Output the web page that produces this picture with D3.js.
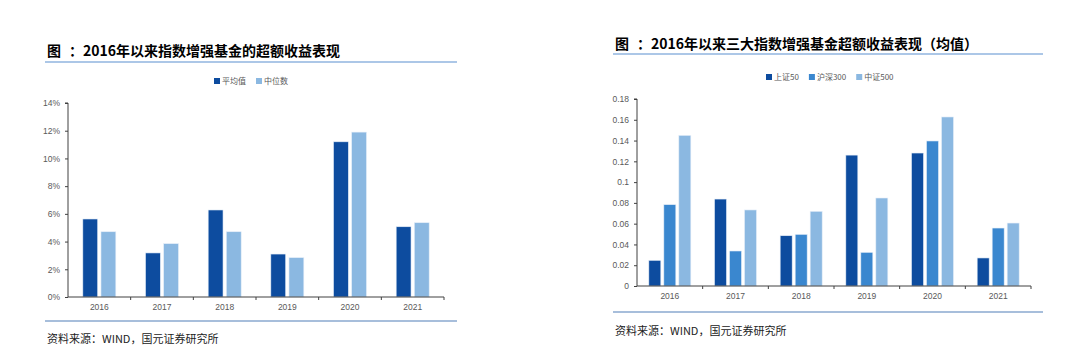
<!DOCTYPE html>
<html><head><meta charset="utf-8">
<script src="https://cdn.jsdelivr.net/npm/d3@7"></script>
<style>body{margin:0;background:#fff;} svg{display:block;} text{white-space:pre;}</style>
</head><body>
<svg id="c" width="1080" height="358"></svg>
<script>
// ---- data ----
const years = ["2016","2017","2018","2019","2020","2021"];
const leftSeries = ["平均值","中位数"];
const leftMean = [5.63, 3.18, 6.28, 3.10, 11.20, 5.07];
const leftMedian = [4.71, 3.85, 4.71, 2.84, 11.90, 5.36];
const leftTicks = [0,2,4,6,8,10,12,14];
const rightSeries = ["上证50","沪深300","中证500"];
const sz50 = [0.0247, 0.0837, 0.0484, 0.1260, 0.1280, 0.0270];
const hs300 = [0.0783, 0.0337, 0.0497, 0.0324, 0.1396, 0.0558];
const zz500 = [0.1450, 0.0732, 0.0719, 0.0847, 0.1627, 0.0606];
const rightTicks = [0,0.02,0.04,0.06,0.08,0.1,0.12,0.14,0.16,0.18];
const titleL = ["图", "：2016年以来指数增强基金的超额收益表现"];
const titleR = ["图", "：2016年以来三大指数增强基金超额收益表现（均值）"];
const source = "资料来源：WIND，国元证券研究所";

const svg = d3.select("#c");
const cjk = "'Noto Sans CJK SC', sans-serif";
const sans = "'Liberation Sans', Arial, sans-serif";

function panel(o){
  // title
  const tt = svg.append("text").attr("x",o.tx).attr("y",o.ty).attr("font-family",cjk)
    .attr("font-weight","bold").attr("font-size",14).attr("fill","#000");
  tt.append("tspan").text(o.title[0]);
  tt.append("tspan").attr("dx",8).text(o.title[1]);
  svg.append("line").attr("x1",o.lx1).attr("x2",o.lx2).attr("y1",o.ly).attr("y2",o.ly)
    .attr("stroke","#5a8fcf").attr("stroke-width",1.2);
  svg.append("line").attr("x1",o.lx1).attr("x2",o.lx2).attr("y1",o.by).attr("y2",o.by)
    .attr("stroke","#a7bedb").attr("stroke-width",2);
  svg.append("text").attr("x",o.sx).attr("y",o.sy).attr("font-family",cjk)
    .attr("font-size",11).attr("fill","#222").text(source);

  const x0 = d3.scaleBand().domain(years).range([o.x0,o.x1]).padding(0);
  const x1 = d3.scaleBand().domain(o.series).range([0,o.gw]).paddingInner(o.pin);
  const y = d3.scaleLinear().domain([0,o.ymax]).range([o.y0,o.yTop]);
  const g = svg.append("g");
  o.data.forEach((vals,si)=>{
    g.selectAll(null).data(vals).enter().append("rect")
      .attr("x",(d,i)=>x0(years[i])+x0.bandwidth()/2-o.gw/2+x1(o.series[si]))
      .attr("y",d=>y(d)).attr("width",x1.bandwidth()).attr("height",d=>y(0)-y(d))
      .attr("fill",o.colors[si]).attr("stroke","#e6eef8").attr("stroke-width",0.6);
  });
  // y axis
  const ya = svg.append("g").attr("transform",`translate(${o.x0},0)`)
    .call(d3.axisLeft(y).tickValues(o.ticks).tickFormat(o.fmt).tickSize(3).tickPadding(5));
  ya.select(".domain").attr("stroke","#404040").attr("d",`M-3,${o.yTop}H0V${o.y0}`);
  ya.selectAll(".tick line").attr("stroke","#404040");
  ya.selectAll("text").attr("font-family",sans).attr("font-size",8.5).attr("fill","#595959");
  // x axis
  const xa = svg.append("g").attr("transform",`translate(0,${o.y0})`)
    .call(d3.axisBottom(x0).tickSize(0).tickPadding(o.xpad));
  xa.select(".domain").attr("stroke","#404040").attr("d",`M${o.x0},0H${o.x1}`);
  xa.selectAll("text").attr("font-family",sans).attr("font-size",8.5).attr("fill","#595959");
  xa.selectAll(null).data(years.slice(1).concat(["end"])).enter().append("line")
    .attr("x1",(d,i)=>o.x0+x0.step()*(i+1)).attr("x2",(d,i)=>o.x0+x0.step()*(i+1))
    .attr("y1",0).attr("y2",3).attr("stroke","#404040");
  // legend
  const lg = svg.append("g");
  let cx = o.legX;
  o.series.forEach((s,i)=>{
    lg.append("rect").attr("x",cx).attr("y",o.legY-3).attr("width",6).attr("height",6).attr("fill",o.colors[i]);
    const t = lg.append("text").attr("x",cx+8).attr("y",o.legY+3).attr("font-family",cjk)
      .attr("font-size",8).attr("fill","#595959").text(s);
    cx += 8 + t.node().getComputedTextLength() + 10;
  });
}

panel({title:titleL, tx:47, ty:56, lx1:45, lx2:457, ly:62, by:321, sx:47, sy:343,
  x0:68, x1:444, y0:297, yTop:103, ymax:14, ticks:leftTicks, fmt:d=>d+"%",
  series:leftSeries, data:[leftMean,leftMedian], colors:["#0d4c9f","#8bb8e1"],
  gw:33, pin:0.18, xpad:7, legX:214, legY:81});
panel({title:titleR, tx:615, ty:49, lx1:613, lx2:1043, ly:54, by:312, sx:615, sy:335,
  x0:637, x1:1031, y0:286, yTop:99, ymax:0.18, ticks:rightTicks, fmt:d=>String(+d.toFixed(2)),
  series:rightSeries, data:[sz50,hs300,zz500], colors:["#0d4c9f","#3a87cf","#8bb8e1"],
  gw:42, pin:0.2, xpad:7, legX:766, legY:77});
</script>
</body></html>
